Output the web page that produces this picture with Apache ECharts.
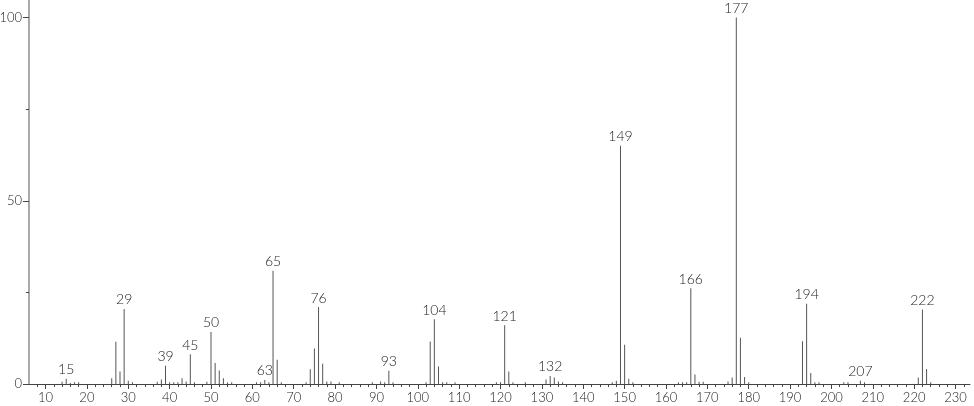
<!DOCTYPE html>
<html><head><meta charset="utf-8">
<script src="https://cdn.jsdelivr.net/npm/echarts@6/dist/echarts.min.js"></script>
<style>html,body{margin:0;padding:0;background:#fff}#c{width:974px;height:406px}</style>
</head><body><div id="c"></div>
<script>
const mz = [14,15,16,17,18,26,27,28,29,30,31,37,38,39,40,41,42,43,44,45,46,49,50,51,52,53,54,55,61,62,63,64,65,66,67,73,74,75,76,77,78,79,81,89,91,92,93,94,102,103,104,105,106,107,109,119,120,121,122,123,126,131,132,133,134,135,147,148,149,150,151,152,163,164,165,166,167,168,169,175,176,177,178,179,180,193,194,195,196,197,203,204,207,208,221,222,223,224];
const intensity = [0.6,1.4,0.3,0.5,0.5,1.6,11.5,3.4,20.5,0.9,0.5,0.6,1.2,5.0,0.5,0.5,0.5,1.6,0.7,8.1,0.5,0.6,14.2,5.7,3.7,1.6,0.4,0.5,0.5,0.5,1.1,0.5,30.9,6.6,0.5,0.5,4.0,9.7,21.0,5.5,0.7,0.7,0.5,0.5,0.7,0.5,3.6,0.5,0.5,11.6,17.7,4.8,0.5,0.5,0.5,0.5,0.5,16.0,3.4,0.5,0.5,1.2,2.2,1.8,0.7,0.5,0.5,0.9,65.0,10.7,1.4,0.5,0.5,0.5,0.5,26.1,2.6,0.6,0.6,0.7,1.8,100,12.6,1.9,0.5,11.7,21.9,3.0,0.5,0.5,0.5,0.5,0.9,0.5,1.8,20.3,4.1,0.5];
const labeledPeaks = [15,29,39,45,50,63,65,76,93,104,121,132,149,166,177,194,207,222];
const xMajorTicks = [10,20,30,40,50,60,70,80,90,100,110,120,130,140,150,160,170,180,190,200,210,220,230];
const yMajorTicks = [0,50,100];
const yMinorTicks = [25,75];

const xMinorTicks = [];
for (let v = 8; v <= 232; v += 2) xMinorTicks.push(v);

const FONT = 'Lato, "DejaVu Sans", sans-serif';
const X_MIN = 6, X_MAX = 233.5, Y_MAX = 104.8;

const data = mz.map((m, i) => ({
  value: [m, intensity[i]],
  label: { show: labeledPeaks.indexOf(m) >= 0 }
}));

const chart = echarts.init(document.getElementById('c'), null, {renderer: 'canvas'});
chart.setOption({
  animation: false,
  backgroundColor: '#fff',
  grid: { left: 29, right: 4, top: 0, bottom: 22, containLabel: false, outerBoundsMode: 'none' },
  xAxis: [{
    type: 'value', min: X_MIN, max: X_MAX, position: 'bottom',
    axisLine: { show: true, lineStyle: { color: '#444', width: 1 } },
    axisTick: { show: true, customValues: xMajorTicks, length: 5, lineStyle: { color: '#444' } },
    axisLabel: { show: true, customValues: xMajorTicks, color: '#222', fontFamily: FONT, fontWeight: 300, fontSize: 13, margin: 7 },
    splitLine: { show: false }
  }, {
    type: 'value', min: X_MIN, max: X_MAX, position: 'bottom',
    axisLine: { show: false },
    axisTick: { show: true, customValues: xMinorTicks, length: 3, lineStyle: { color: '#444' } },
    axisLabel: { show: false },
    splitLine: { show: false }
  }],
  yAxis: [{
    type: 'value', min: 0, max: Y_MAX,
    axisLine: { show: true, lineStyle: { color: '#aaa', width: 2 } },
    axisTick: { show: true, customValues: yMajorTicks, length: 6, lineStyle: { color: '#444' } },
    axisLabel: { show: true, customValues: yMajorTicks, color: '#222', fontFamily: FONT, fontWeight: 300, fontSize: 13, margin: 7 },
    splitLine: { show: false }
  }, {
    type: 'value', min: 0, max: Y_MAX, position: 'left',
    axisLine: { show: false },
    axisTick: { show: true, customValues: yMinorTicks, length: 3, lineStyle: { color: '#444' } },
    axisLabel: { show: false },
    splitLine: { show: false }
  }],
  series: [{
    type: 'bar',
    xAxisIndex: 0,
    yAxisIndex: 0,
    barWidth: 1,
    itemStyle: { color: '#555' },
    label: { position: 'top', distance: 2, color: '#222', fontFamily: FONT, fontWeight: 300, fontSize: 14,
      formatter: p => String(p.value[0]) },
    data: data
  }]
});
</script></body></html>
